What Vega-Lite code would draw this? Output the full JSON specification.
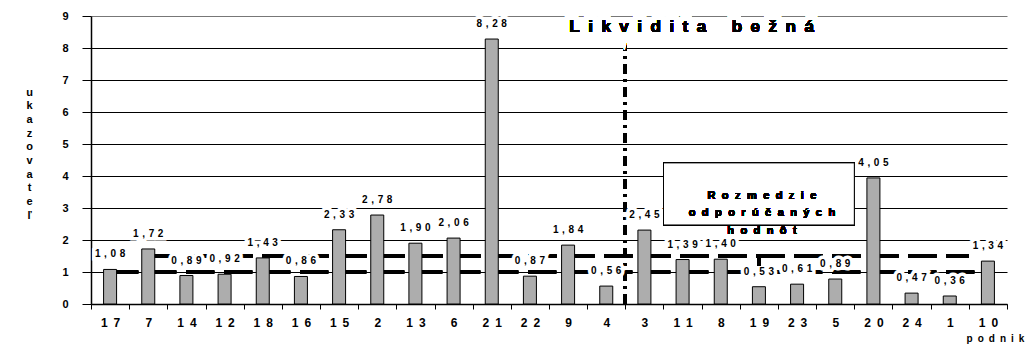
{
  "$schema": "https://vega.github.io/schema/vega-lite/v6.json",
  "width": 916,
  "height": 288,
  "autosize": {"type": "none"},
  "padding": {"left": 91, "top": 16, "right": 24, "bottom": 43},
  "background": "white",
  "config": {"view": {"stroke": null}, "font": "Liberation Sans"},
  "data": {
    "values": [
      {"podnik": "17", "hodnota": 1.08, "popis": 1.08},
      {"podnik": "7", "hodnota": 1.72, "popis": 1.72},
      {"podnik": "14", "hodnota": 0.89, "popis": 0.89},
      {"podnik": "12", "hodnota": 0.93, "popis": 0.92},
      {"podnik": "18", "hodnota": 1.44, "popis": 1.43},
      {"podnik": "16", "hodnota": 0.86, "popis": 0.86},
      {"podnik": "15", "hodnota": 2.32, "popis": 2.33},
      {"podnik": "2", "hodnota": 2.78, "popis": 2.78},
      {"podnik": "13", "hodnota": 1.90, "popis": 1.90},
      {"podnik": "6", "hodnota": 2.06, "popis": 2.06},
      {"podnik": "21", "hodnota": 8.28, "popis": 8.28},
      {"podnik": "22", "hodnota": 0.87, "popis": 0.87},
      {"podnik": "9", "hodnota": 1.84, "popis": 1.84},
      {"podnik": "4", "hodnota": 0.56, "popis": 0.56},
      {"podnik": "3", "hodnota": 2.31, "popis": 2.45},
      {"podnik": "11", "hodnota": 1.39, "popis": 1.39},
      {"podnik": "8", "hodnota": 1.40, "popis": 1.40},
      {"podnik": "19", "hodnota": 0.54, "popis": 0.53},
      {"podnik": "23", "hodnota": 0.62, "popis": 0.61},
      {"podnik": "5", "hodnota": 0.78, "popis": 0.89},
      {"podnik": "20", "hodnota": 3.94, "popis": 4.05},
      {"podnik": "24", "hodnota": 0.34, "popis": 0.47},
      {"podnik": "1", "hodnota": 0.25, "popis": 0.36},
      {"podnik": "10", "hodnota": 1.34, "popis": 1.34}
    ]
  },
  "encoding": {
    "x": {
      "field": "podnik",
      "type": "nominal",
      "sort": null,
      "scale": {"domain": ["17","7","14","12","18","16","15","2","13","6","21","22","9","4","3","11","8","19","23","5","20","24","1","10"], "paddingInner": 0, "paddingOuter": 0},
      "axis": {
        "title": "p\u2002o\u2002d\u2002n\u2002i\u2002k",
        "titleFont": "Liberation Sans",
        "titleFontSize": 10,
        "titleFontWeight": "bold",
        "titleX": 904,
        "titleY": 34,
        "titleAlign": "center",
        "titleBaseline": "middle",
        "labelAngle": 0,
        "labelFont": "Liberation Sans",
        "labelFontSize": 12,
        "labelFontWeight": "bold",
        "labelColor": "black",
        "labelPadding": 8,
        "labelExpr": "join(split(datum.label, ''), '\u2002')",
        "tickBand": "extent",
        "tickSize": 5,
        "tickColor": "black",
        "domainColor": "black",
        "domainWidth": 1.5,
        "grid": false
      }
    },
    "y": {
      "field": "hodnota",
      "type": "quantitative",
      "scale": {"domain": [0, 9], "nice": false},
      "axis": {
        "title": ["u", "k", "a", "z", "o", "v", "a", "t", "e", "ľ"],
        "titleAngle": 0,
        "titleFont": "Liberation Sans",
        "titleFontSize": 11,
        "titleFontWeight": "bold",
        "titleLineHeight": 13.7,
        "titleX": -62,
        "titleY": 70,
        "titleAlign": "center",
        "titleBaseline": "top",
        "values": [0, 1, 2, 3, 4, 5, 6, 7, 8, 9],
        "labelFont": "Liberation Sans",
        "labelFontSize": 11,
        "labelFontWeight": "bold",
        "labelColor": "black",
        "labelPadding": 14,
        "tickSize": 9,
        "tickColor": "black",
        "domainColor": "black",
        "domainWidth": 1.5,
        "grid": true,
        "gridColor": {"condition": {"test": "datum.value == 9", "value": "#777777"}, "value": "black"},
        "gridWidth": 1
      }
    }
  },
  "layer": [
    {
      "mark": {"type": "rule", "strokeWidth": 3, "strokeDash": [28, 10], "color": "black"},
      "encoding": {
        "x": {"datum": "17", "type": "nominal"},
        "x2": {"datum": "10", "bandPosition": 0.25},
        "y": {"datum": 1, "type": "quantitative"}
      }
    },
    {
      "mark": {"type": "rule", "strokeWidth": 3, "strokeDash": [28, 10], "color": "black"},
      "encoding": {
        "x": {"datum": "7", "type": "nominal"},
        "x2": {"datum": "10", "bandPosition": 0},
        "y": {"datum": 1.5, "type": "quantitative"}
      }
    },
    {
      "mark": {"type": "bar", "size": 13, "fill": "#adadad", "stroke": "black", "strokeWidth": 1}
    },
    {
      "mark": {"type": "rule", "strokeWidth": 3, "strokeDash": [10, 5, 3, 5], "color": "black"},
      "encoding": {
        "x": {"datum": "3", "type": "nominal", "bandPosition": 0},
        "y": {"datum": 0, "type": "quantitative"},
        "y2": {"datum": 8.13}
      }
    },
    {
      "transform": [{"calculate": "join(split(replace(format(datum.popis, '.2f'), '.', ','), ''), '\u00a0\u200a')", "as": "txt"}],
      "mark": {"type": "text", "dy": -10, "baseline": "bottom", "fontSize": 10, "fontWeight": "bold", "font": "Liberation Sans", "stroke": "white", "strokeWidth": 7, "fill": "white"},
      "encoding": {"text": {"field": "txt"}}
    },
    {
      "transform": [{"calculate": "join(split(replace(format(datum.popis, '.2f'), '.', ','), ''), '\u00a0\u200a')", "as": "txt"}],
      "mark": {"type": "text", "dy": -10, "baseline": "bottom", "fontSize": 10, "fontWeight": "bold", "font": "Liberation Sans", "fill": "black"},
      "encoding": {"text": {"field": "txt"}}
    },
    {
      "mark": {"type": "text", "fontSize": 17, "fontWeight": "bold", "font": "Liberation Sans", "stroke": "white", "strokeWidth": 10, "fill": "white", "baseline": "middle", "dx": 9},
      "encoding": {
        "x": {"datum": "11", "type": "nominal"},
        "y": {"datum": 8.66, "type": "quantitative"},
        "text": {"value": "L\u2002i\u2002k\u2002v\u2002i\u2002d\u2002i\u2002t\u2002a\u2002\u2002\u2002b\u2002e\u2002ž\u2002n\u2002á"}
      }
    },
    {
      "mark": {"type": "text", "fontSize": 17, "fontWeight": "bold", "font": "Liberation Sans", "fill": "black", "baseline": "middle", "dx": 9},
      "encoding": {
        "x": {"datum": "11", "type": "nominal"},
        "y": {"datum": 8.66, "type": "quantitative"},
        "text": {"value": "L\u2002i\u2002k\u2002v\u2002i\u2002d\u2002i\u2002t\u2002a\u2002\u2002\u2002b\u2002e\u2002ž\u2002n\u2002á"}
      }
    },
    {
      "mark": {"type": "rect", "fill": "white", "stroke": "black", "strokeWidth": 1},
      "encoding": {
        "x": {"datum": "11", "type": "nominal", "bandPosition": 0},
        "x2": {"datum": "20", "bandPosition": 0},
        "y": {"datum": 2.47, "type": "quantitative"},
        "y2": {"datum": 4.41}
      }
    },
    {
      "mark": {"type": "text", "fontSize": 11, "fontWeight": "bold", "font": "Liberation Sans", "fill": "black", "baseline": "middle", "lineHeight": 17.5, "dx": 3},
      "encoding": {
        "x": {"datum": "19", "type": "nominal"},
        "y": {"datum": 3.39, "type": "quantitative"},
        "text": {"value": ["R\u2002\u200ao\u2002\u200az\u2002\u200am\u2002\u200ae\u2002\u200ad\u2002\u200az\u2002\u200ai\u2002\u200ae", "o\u2002\u200ad\u2002\u200ap\u2002\u200ao\u2002\u200ar\u2002\u200aú\u2002\u200ač\u2002\u200aa\u2002\u200an\u2002\u200aý\u2002\u200ac\u2002\u200ah", "h\u2002\u200ao\u2002\u200ad\u2002\u200an\u2002\u200aô\u2002\u200at"]}
      }
    },
    {
      "mark": {"type": "rule", "strokeWidth": 3, "color": "black"},
      "encoding": {
        "x": {"datum": "19", "type": "nominal"},
        "y": {"datum": 1.5, "type": "quantitative"},
        "y2": {"datum": 1.2}
      }
    }
  ]
}
